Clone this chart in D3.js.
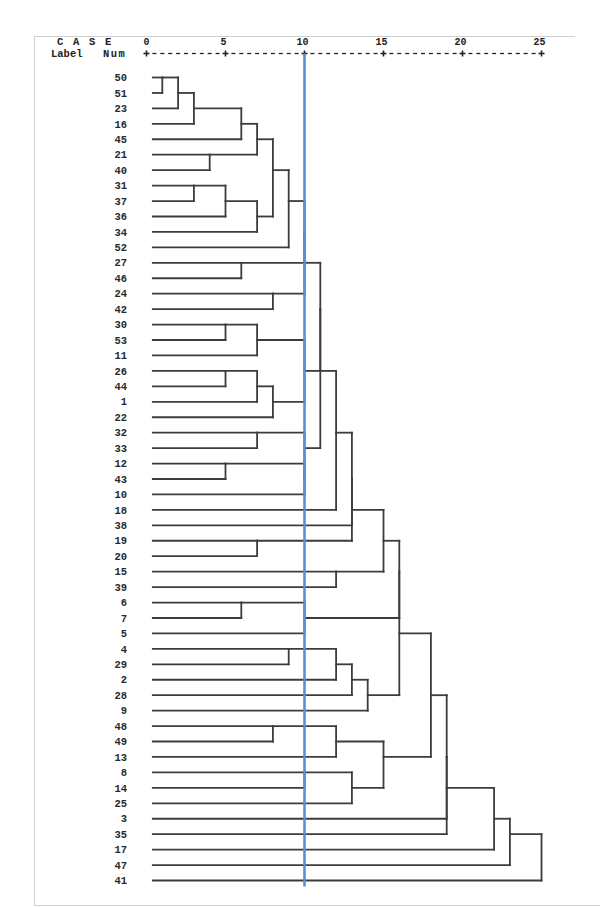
<!DOCTYPE html>
<html><head><meta charset="utf-8">
<script src="https://cdn.jsdelivr.net/npm/d3@7"></script>
<style>
html,body{margin:0;padding:0;background:#fff;}
svg{display:block;}
</style></head>
<body>
<svg id="chart" width="600" height="907"></svg>
<script>
// ---- data ----
const leaves = ["50","51","23","16","45","21","40","31","37","36","34","52","27","46","24","42","30","53","11","26","44","1","22","32","33","12","43","10","18","38","19","20","15","39","6","7","5","4","29","2","28","9","48","49","13","8","14","25","3","35","17","47","41"];

// agglomeration schedule: [new cluster, joined A, joined B, rescaled distance]
const merges = [
 ["m1","50","51",1],["m2","m1","23",2],["m3","m2","16",3],["m4","m3","45",6],
 ["m5","21","40",4],["m6","m4","m5",7],["m7","31","37",3],["m8","m7","36",5],
 ["m9","m8","34",7],["m10","m6","m9",8],["m11","m10","52",9],["m12","27","46",6],
 ["m13","m11","m12",10],["m14","24","42",8],["m15","m13","m14",10],["m16","30","53",5],
 ["m17","m16","11",7],["m18","26","44",5],["m19","m18","1",7],["m20","m19","22",8],
 ["m21","m17","m20",10],["m22","32","33",7],["m23","12","43",5],["m24","m23","10",10],
 ["m25","m22","m24",10],["m26","m15","m21",11],["m27","m26","m25",11],["m28","m27","18",12],
 ["m29","m28","38",13],["m30","19","20",7],["m31","m29","m30",13],["m32","15","39",12],
 ["m33","m31","m32",15],["m34","6","7",6],["m35","m34","5",10],["m36","m33","m35",16],
 ["m37","4","29",9],["m38","m37","2",12],["m39","m38","28",13],["m40","m39","9",14],
 ["m41","m36","m40",16],["m42","48","49",8],["m43","m42","13",12],["m44","8","14",10],
 ["m45","m44","25",13],["m46","m43","m45",15],["m47","m41","m46",18],["m48","m47","3",19],
 ["m49","m48","35",19],["m50","m49","17",22],["m51","m50","47",23],["m52","m51","41",25]
];

const axisTicks = [0,5,10,15,20,25];
const cutoff = [10];
const headerCase = ["C A S E"];
const headerLabel = ["Label", "Num"];

// ---- layout ----
const svg = d3.select("#chart");
const x = d3.scaleLinear().domain([0,25]).range([146.5,541.5]);
const y = d3.scaleLinear().domain([0,leaves.length-1]).range([77.5,880.5]);
const leafStart = 0.4;
const ink = "#3c3c3c";
const mono = "'Liberation Mono','DejaVu Sans Mono',monospace";

// frame
svg.append("path")
  .attr("d","M575,36.5 H34.5 V905.5 H600")
  .attr("fill","none").attr("stroke","#cfcfcf").attr("stroke-width",1);

// header
svg.append("text").text(headerCase[0]).attr("x",57).attr("y",44.5)
  .attr("font-family",mono).attr("font-weight","bold").attr("font-size",10.5).attr("fill","#222")
  .attr("letter-spacing",1.7).attr("xml:space","preserve");
svg.append("text").text(headerLabel[0]).attr("x",51).attr("y",56.5)
  .attr("font-family",mono).attr("font-weight","bold").attr("font-size",10.5).attr("fill","#222");
svg.append("text").text(headerLabel[1]).attr("x",103).attr("y",56.5)
  .attr("font-family",mono).attr("font-weight","bold").attr("font-size",10.5).attr("fill","#222")
  .attr("letter-spacing",1.5);

// axis tick labels
svg.selectAll("text.tick").data(axisTicks).join("text").attr("class","tick")
  .attr("x",d=>x(d)+ (d===0?0:-2)).attr("y",44.5).attr("text-anchor","middle")
  .attr("font-family",mono).attr("font-weight","bold").attr("font-size",10).attr("fill","#222")
  .text(d=>d);

// dashed axis
const axisY = 53.5;
const intervals = d3.pairs(axisTicks);
intervals.forEach(([a,b])=>{
  const x0 = x(a), x1 = x(b);
  const n = 9;
  for(let i=0;i<n;i++){
    const cx = x0 + (x1-x0)*(i+1)/(n+1);
    svg.append("line").attr("x1",cx-2).attr("x2",cx+2).attr("y1",axisY).attr("y2",axisY)
      .attr("stroke","#222").attr("stroke-width",1.3);
  }
});
svg.selectAll("g.plus").data(axisTicks).join("g").attr("class","plus")
  .attr("transform",d=>`translate(${x(d)},${axisY})`)
  .each(function(){
    const g = d3.select(this);
    g.append("line").attr("x1",-3).attr("x2",3).attr("stroke","#222").attr("stroke-width",1.6);
    g.append("line").attr("y1",-3).attr("y2",3).attr("stroke","#222").attr("stroke-width",1.6);
  });

// leaf labels
svg.selectAll("text.leaf").data(leaves).join("text").attr("class","leaf")
  .attr("x",127).attr("y",(d,i)=>y(i)).attr("dy","0.35em").attr("text-anchor","end")
  .attr("font-family",mono).attr("font-weight","bold").attr("font-size",10.5).attr("fill","#2a2a2a")
  .text(d=>d);

// dendrogram geometry
const nodes = new Map();
leaves.forEach((l,i)=>nodes.set(l,{row:i,h:leafStart}));
const segs = [];
merges.forEach(([id,a,b,h])=>{
  const na = nodes.get(a), nb = nodes.get(b);
  segs.push({x1:x(na.h),x2:x(h),y1:y(na.row),y2:y(na.row)});
  segs.push({x1:x(nb.h),x2:x(h),y1:y(nb.row),y2:y(nb.row)});
  segs.push({x1:x(h),x2:x(h),y1:y(na.row),y2:y(nb.row)});
  nodes.set(id,{row:Math.floor((na.row+nb.row)/2),h:h});
});
svg.append("g").selectAll("line").data(segs).join("line")
  .attr("x1",d=>d.x1).attr("x2",d=>d.x2).attr("y1",d=>d.y1).attr("y2",d=>d.y2)
  .attr("stroke",ink).attr("stroke-width",1.8).attr("stroke-linecap","square");

// cutoff line
svg.selectAll("line.cut").data(cutoff).join("line").attr("class","cut")
  .attr("x1",d=>x(d)).attr("x2",d=>x(d)).attr("y1",axisY).attr("y2",886.5)
  .attr("stroke","#5b8fd6").attr("stroke-width",2.6);
</script>
</body></html>
